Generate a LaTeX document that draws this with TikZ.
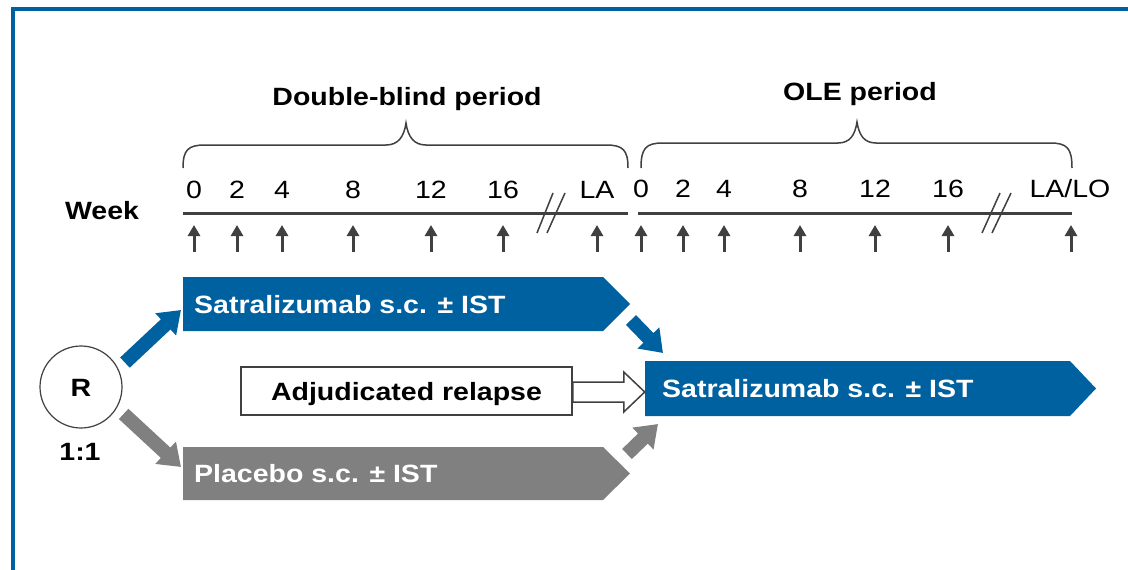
\documentclass[tikz,border=0pt]{standalone}
\usepackage{fontspec}
\setmainfont{Liberation Sans}[FakeStretch=1.14]
\usetikzlibrary{arrows.meta,calc}

\definecolor{sblue}{HTML}{0061A1}
\definecolor{sgray}{HTML}{808080}
\definecolor{axis}{HTML}{404040}

\begin{document}
\begin{tikzpicture}[x=1pt,y=-1pt,
  txt/.style={font=\fontsize{25}{30}\selectfont, inner sep=0pt, text height=18pt, text depth=0pt},
  btxt/.style={txt, font=\fontsize{25}{30}\selectfont\bfseries},
  axisline/.style={draw=axis, line width=3pt},
  tickarrow/.style={draw=axis, line width=3pt, -{Triangle[length=11pt,width=12pt]}},
  breakmark/.style={draw=axis, line width=1.5pt},
  bracepath/.style={draw=axis, line width=1.5pt},
  fatarrow/.style={line width=14pt, -{Triangle[length=21pt,width=29pt]}},
  hollow/.style={draw=axis, line width=1.5pt, fill=white},
]
\useasboundingbox (0,0) rectangle (1128,570);
\fill[white] (0,0) rectangle (1128,570);

% frame
\draw[sblue, line width=4pt] (13,572) -- (13,9) -- (1130,9);

% period headings and braces
\node[btxt] (dbl) at (407,96) {Double-blind period};
\node[btxt] (ole) at (860,91) {OLE period};
\draw[bracepath] (183,168) .. controls (183,150) and (188,145) .. (205,145) -- (386,145)
  .. controls (398,145) and (404,137) .. (406,123)
  .. controls (408,137) and (414,145) .. (426,145) -- (606,145)
  .. controls (623,145) and (628,150) .. (628,168);
\draw[bracepath] (641,168) .. controls (641,148) and (646,143) .. (663,143) -- (838,143)
  .. controls (850,143) and (855,135) .. (857,122)
  .. controls (859,135) and (864,143) .. (876,143) -- (1050,143)
  .. controls (1067,143) and (1072,148) .. (1072,168);

% week axis
\node[btxt] (week) at (102,210) {Week};
\coordinate (t1s) at (183,213);
\coordinate (t1e) at (628,213);
\coordinate (t2s) at (638,213);
\coordinate (t2e) at (1072,213);
\draw[axisline] (t1s) -- (t1e);
\draw[axisline] (t2s) -- (t2e);

\foreach \x/\lab [count=\i] in {194/0,237/2,282/4,353/8,431/12,503/16,597/LA}{
  \node[txt] (la\i) at (\x,189) {\lab};
  \coordinate (pa\i) at (\x,252);
  \coordinate (qa\i) at (\x,225);
  \draw[tickarrow] (pa\i) -- (qa\i);
}
\foreach \x/\lab [count=\i] in {641/0,683/2,724/4,800/8,875/12,948/16}{
  \node[txt] (lb\i) at (\x,188) {\lab};
  \coordinate (pb\i) at (\x,252);
  \coordinate (qb\i) at (\x,225);
  \draw[tickarrow] (pb\i) -- (qb\i);
}
\node[txt] (lblo) at (1070,188) {LA/LO};
\coordinate (pblo) at (1071,252);
\coordinate (qblo) at (1071,225);
\draw[tickarrow] (pblo) -- (qblo);

% axis breaks
\draw[breakmark] (537,233) -- (553,193);
\draw[breakmark] (547,233) -- (565,193);
\draw[breakmark] (982,233) -- (1000,193);
\draw[breakmark] (992,233) -- (1011,193);

% treatment arms
\fill[sblue] (183,277) -- (603,277) -- (630,304) -- (603,331) -- (183,331) -- cycle;
\fill[sgray] (183,447) -- (603,447) -- (630,473.5) -- (603,500) -- (183,500) -- cycle;
\fill[sblue] (645,361) -- (1070,361) -- (1096,388.5) -- (1070,416) -- (645,416) -- cycle;
\node[btxt, text=white, anchor=west] (arm1) at (194,304) {Satralizumab s.c. ± IST};
\node[btxt, text=white, anchor=west] (arm2) at (194,473.5) {Placebo s.c. ± IST};
\node[btxt, text=white, anchor=west] (arm3) at (662,388.5) {Satralizumab s.c. ± IST};
\coordinate (arm1in) at (181,310);
\coordinate (arm2in) at (181,467);

% relapse box
\node[btxt, draw=axis, line width=1.5pt, minimum width=331pt, minimum height=48pt] (adj) at (406.5,391) {Adjudicated relapse};
\draw[hollow] ([yshift=9pt]adj.east) -- ++(51,0) -- ++(0,-10) -- ++(21,20) -- ++(-21,20) -- ++(0,-10) -- ++(-51,0) -- cycle;

% randomisation
\node[btxt, circle, draw=axis, line width=1.2pt, minimum size=82pt] (R) at (81,387) {R};
\node[btxt] (ratio) at (80,451) {1:1};

% arrows between arms
\coordinate (c1) at (631,320);
\coordinate (c2) at (663,353);
\coordinate (c3) at (627,454);
\coordinate (c4) at (658,424);
\draw[fatarrow, sblue, shorten <=9pt] (R.26) -- (arm1in);
\draw[fatarrow, sgray, shorten <=9pt] (R.-30) -- (arm2in);
\draw[fatarrow, sblue] (c1) -- (c2);
\draw[fatarrow, sgray] (c3) -- (c4);
\end{tikzpicture}
\end{document}
